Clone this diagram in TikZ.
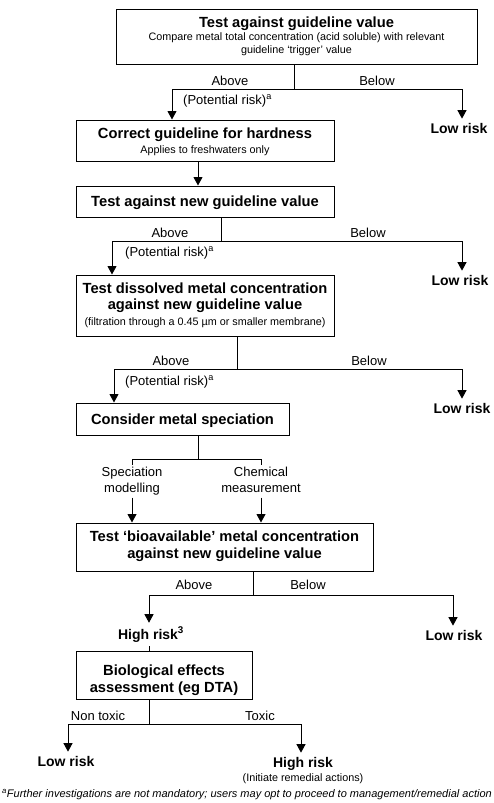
\documentclass[tikz,border=0pt]{standalone}
\usepackage{fontspec}
\setmainfont{Liberation Sans}
\usetikzlibrary{arrows.meta}
\begin{document}
\begin{tikzpicture}[x=1pt,y=-1pt,
  box/.style={draw, line width=1pt, inner sep=0pt},
  ttl/.style={font=\fontsize{14.7}{17}\selectfont\bfseries, anchor=base, inner sep=0pt},
  subt/.style={font=\fontsize{10.8}{13}\selectfont, anchor=base, inner sep=0pt},
  lbl/.style={font=\fontsize{13}{16}\selectfont, anchor=base, inner sep=1pt},
  res/.style={font=\fontsize{14}{16}\selectfont\bfseries, anchor=base, inner xsep=1pt, inner ysep=4pt},
  ln/.style={line width=1pt},
  arr/.style={line width=1pt, -{Triangle[length=8.5pt,width=9pt]}}]
\useasboundingbox (0,0) rectangle (494,803);

% boxes
\node[box, minimum width=361pt, minimum height=54.5pt] (b1) at (296.5,37) {};
\node[box, minimum width=258pt, minimum height=41pt]   (b2) at (205,140.5) {};
\node[box, minimum width=258pt, minimum height=31.5pt] (b3) at (205,201.75) {};
\node[box, minimum width=258pt, minimum height=61.5pt] (b4) at (205,305.75) {};
\node[box, minimum width=213pt, minimum height=32pt]   (b5) at (182.5,419) {};
\node[box, minimum width=297pt, minimum height=48.5pt] (b6) at (224.5,547.25) {};
\node[box, minimum width=176pt, minimum height=48pt]   (b7) at (164,675.5) {};

% box texts
\node[ttl]  (t1)  at (296.5,27.5) {Test against guideline value};
\node[subt] (s1a) at (296.5,40.5) {Compare metal total concentration (acid soluble) with relevant};
\node[subt] (s1b) at (296.5,53.5) {guideline `trigger' value};
\node[ttl]  (t2)  at (205,138.5)  {Correct guideline for hardness};
\node[subt] (s2)  at (205,153.5)  {Applies to freshwaters only};
\node[ttl]  (t3)  at (205,206.5)  {Test against new guideline value};
\node[ttl]  (t4a) at (205,293)    {Test dissolved metal concentration};
\node[ttl]  (t4b) at (205,309.5)  {against new guideline value};
\node[subt] (s4)  at (205,325.5)  {(filtration through a 0.45 µm or smaller membrane)};
\node[ttl]  (t5)  at (182.5,424)  {Consider metal speciation};
\node[ttl]  (t6a) at (224.5,541)  {Test `bioavailable' metal concentration};
\node[ttl]  (t6b) at (224.5,558)  {against new guideline value};
\node[ttl]  (t7a) at (164,675.5)  {Biological effects};
\node[ttl]  (t7b) at (164,692.5)  {assessment (eg DTA)};

% results
\node[res] (lr1) at (459,133)   {Low risk};
\node[res] (lr2) at (460,285)   {Low risk};
\node[res] (lr3) at (462,413)   {Low risk};
\node[res] (hr1) at (151,639)   {High risk\textsuperscript{3}};
\node[res] (lr4) at (454,640)   {Low risk};
\node[res] (lr5) at (66,766)    {Low risk};
\node[res] (hr2) at (303,767)   {High risk};
\node[subt] (hr2s) at (303,781) {(Initiate remedial actions)};
\node[subt, font=\fontsize{11}{13}\selectfont\itshape] (fn) at (247,797)
  {\textsuperscript{a}Further investigations are not mandatory; users may opt to proceed to management/remedial action};

% labels
\node[lbl] (ab1) at (230,85)  {Above};
\node[lbl] (be1) at (377,85)  {Below};
\node[lbl, anchor=base west] (pr1) at (182,104) {(Potential risk)\textsuperscript{a}};
\node[lbl] (ab2) at (170,237.5) {Above};
\node[lbl] (be2) at (368,237.5) {Below};
\node[lbl, anchor=base west] (pr2) at (124,256) {(Potential risk)\textsuperscript{a}};
\node[lbl] (ab3) at (171,365.5) {Above};
\node[lbl] (be3) at (369,365.5) {Below};
\node[lbl, anchor=base west] (pr3) at (124,385) {(Potential risk)\textsuperscript{a}};
\node[lbl, anchor=north, align=center, inner ysep=2pt] (sm) at (132,465) {Speciation\\modelling};
\node[lbl, anchor=north, align=center, inner ysep=2pt] (cm) at (261,465) {Chemical\\measurement};
\node[lbl] (ab4) at (194,589.5) {Above};
\node[lbl] (be4) at (308,589.5) {Below};
\node[lbl] (nt) at (98,720)   {Non toxic};
\node[lbl] (tx) at (260,720)  {Toxic};

% junctions
\coordinate (j1) at (294,89);  \coordinate (l1) at (172,89);  \coordinate (r1) at (462,89);
\coordinate (j2) at (221,241); \coordinate (l2) at (112,241); \coordinate (r2) at (462,241);
\coordinate (j3) at (237,369); \coordinate (l3) at (114,369); \coordinate (r3) at (462,369);
\coordinate (j4) at (198,459); \coordinate (l4) at (132,459); \coordinate (r4) at (261,459);
\coordinate (j5) at (253,595); \coordinate (l5) at (149,595); \coordinate (r5) at (453,595);
\coordinate (j6) at (149,724); \coordinate (l6) at (68,724);  \coordinate (r6) at (301,724);
\coordinate (m23) at (198,0);

% connectors
\draw[ln] (b1.south -| j1) -- (j1);
\draw[ln] (l1) -- (r1);
\draw[arr] (l1) -- (l1 |- b2.north);
\draw[arr] (r1) -- (r1 |- lr1.north);

\draw[arr] (b2.south -| m23) -- (b3.north -| m23);

\draw[ln] (b3.south -| j2) -- (j2);
\draw[ln] (l2) -- (r2);
\draw[arr] (l2) -- (l2 |- b4.north);
\draw[arr] (r2) -- (r2 |- lr2.north);

\draw[ln] (b4.south -| j3) -- (j3);
\draw[ln] (l3) -- (r3);
\draw[arr] (l3) -- (l3 |- b5.north);
\draw[arr] (r3) -- (r3 |- lr3.north);

\draw[ln] (b5.south -| j4) -- (j4);
\draw[ln] (l4 |- sm.north) -- (l4) -- (r4) -- (r4 |- cm.north);
\draw[arr] (sm.south) -- (sm.south |- b6.north);
\draw[arr] (cm.south |- sm.south) -- (cm.south |- b6.north);

\draw[ln] (b6.south -| j5) -- (j5);
\draw[ln] (l5) -- (r5);
\draw[arr] (l5) -- (l5 |- hr1.north);
\draw[arr] (r5) -- (r5 |- lr4.north);
\draw[ln] (hr1.south -| l5) -- (b7.north -| l5);

\draw[ln] (b7.south -| j6) -- (j6);
\draw[ln] (l6) -- (r6);
\draw[arr] (l6) -- (l6 |- lr5.north);
\draw[arr] (r6) -- (r6 |- hr2.north);
\end{tikzpicture}
\end{document}
